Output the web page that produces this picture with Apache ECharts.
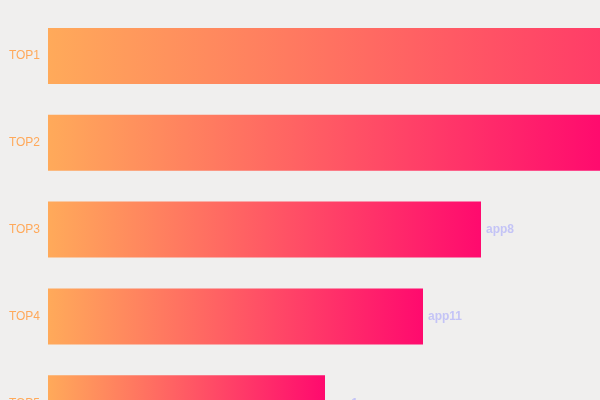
<!DOCTYPE html>
<html>
<head>
<meta charset="utf-8">
<script src="https://cdn.jsdelivr.net/npm/echarts@6/dist/echarts.min.js"></script>
<style>
  html, body { margin: 0; padding: 0; background: #f0efee; }
  #chart { width: 600px; height: 400px; }
</style>
</head>
<body>
<div id="chart"></div>
<script>
const categories = ['TOP1', 'TOP2', 'TOP3', 'TOP4', 'TOP5'];
const values = [805, 554, 433, 375, 277];
const appLabels = ['app3', 'app5', 'app8', 'app11', 'app1'];

const chart = echarts.init(document.getElementById('chart'));
chart.setOption({
  backgroundColor: '#f0efee',
  animation: false,
  grid: { left: 48, top: 12.6, width: 1000, height: 434, outerBoundsMode: 'none', containLabel: false },
  xAxis: {
    type: 'value', min: 0, max: 1000,
    show: false
  },
  yAxis: {
    type: 'category',
    inverse: true,
    data: categories,
    axisLine: { show: false },
    axisTick: { show: false },
    splitLine: { show: false },
    axisLabel: { color: '#ffa95a', fontSize: 12, margin: 8, padding: [4, 0, 0, 0] }
  },
  series: [{
    type: 'bar',
    data: values,
    barWidth: 56,
    itemStyle: {
      color: new echarts.graphic.LinearGradient(0, 0, 1, 0, [
        { offset: 0, color: '#ffaa5a' },
        { offset: 1, color: '#ff0a6e' }
      ])
    },
    label: {
      show: true,
      position: 'right',
      distance: 5,
      color: '#c4c4f6',
      fontSize: 12,
      fontWeight: 'bold',
      padding: [3, 0, 0, 0],
      formatter: p => appLabels[p.dataIndex]
    }
  }]
});
</script>
</body>
</html>
